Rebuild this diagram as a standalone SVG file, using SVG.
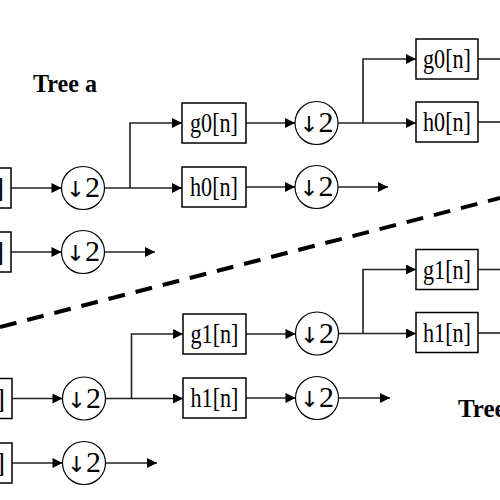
<svg xmlns="http://www.w3.org/2000/svg" width="500" height="500" viewBox="0 0 500 500">
<defs>
<marker id="ah" viewBox="0 0 10 10" refX="10" refY="5" markerWidth="11" markerHeight="10" markerUnits="userSpaceOnUse" orient="auto"><path d="M0,0 L10,5 L0,10 z" fill="#000"/></marker>
<style>
.box{fill:#fff;stroke:#000;stroke-width:1.5}
.circ{fill:#fff;stroke:#000;stroke-width:1.2}
.lbl{font-family:"Liberation Serif","Times New Roman",serif;font-size:27px;fill:#000;text-anchor:middle}
.ds{font-family:"Liberation Serif","DejaVu Serif",serif;font-size:29px;fill:#000;text-anchor:middle}
.arw{font-family:"DejaVu Sans",sans-serif;font-size:22px}
.title{font-family:"Liberation Serif","Times New Roman",serif;font-size:25px;font-weight:bold;fill:#000}
.c{fill:none;stroke:#222;stroke-width:1.6}
.a{marker-end:url(#ah)}
.dash{fill:none;stroke:#000;stroke-width:4;stroke-dasharray:17 11}
</style>
</defs>
<rect x="0" y="0" width="500" height="500" fill="#fff"/>

<text class="title" x="33" y="92" textLength="64" lengthAdjust="spacingAndGlyphs">Tree a</text>
<text class="title" x="458" y="417">Tree b</text>

<line class="dash" x1="0" y1="327" x2="500" y2="198"/>

<g id="connectors">
<path class="c a" d="M11,188 H61.5"/>
<path class="c a" d="M104.5,188 H182"/>
<path class="c a" d="M130,188 V123 H182"/>
<path class="c a" d="M246,123 H295"/>
<path class="c a" d="M338,123 H416"/>
<path class="c a" d="M363,123 V59 H416"/>
<path class="c" d="M478,59 H500"/>
<path class="c" d="M478,122 H500"/>
<path class="c a" d="M246,187 H295"/>
<path class="c a" d="M338,187 H388"/>
<path class="c a" d="M11,252 H61.5"/>
<path class="c a" d="M104.5,252 H155"/>

<path class="c a" d="M12,398.5 H62.5"/>
<path class="c a" d="M105.5,398.5 H183"/>
<path class="c a" d="M131.5,398.5 V334 H183"/>
<path class="c a" d="M246,334 H295.5"/>
<path class="c a" d="M338.5,333.5 H416"/>
<path class="c a" d="M363,333.5 V269.5 H416"/>
<path class="c" d="M478,269.5 H500"/>
<path class="c" d="M478,333 H500"/>
<path class="c a" d="M246,398 H295.5"/>
<path class="c a" d="M338.5,398 H390"/>
<path class="c a" d="M12,463 H62.5"/>
<path class="c a" d="M105.5,463 H157"/>
</g>

<g id="inA1"><rect class="box" x="-60" y="168" width="71" height="40"/><text class="lbl" x="4" y="197" style="text-anchor:end">]</text></g>
<g id="dsA1"><circle class="circ" cx="83" cy="188" r="21.5"/><text class="ds" x="83" y="197" textLength="34" lengthAdjust="spacingAndGlyphs"><tspan class="arw">↓</tspan>2</text></g>
<g id="g0a"><rect class="box" x="182" y="103" width="64" height="40"/><text class="lbl" x="214" y="132" textLength="48" lengthAdjust="spacingAndGlyphs">g0[n]</text></g>
<g id="h0a"><rect class="box" x="182" y="167" width="64" height="40"/><text class="lbl" x="214" y="196" textLength="48" lengthAdjust="spacingAndGlyphs">h0[n]</text></g>
<g id="dsA2"><circle class="circ" cx="316.5" cy="123" r="21.5"/><text class="ds" x="316.5" y="132" textLength="34" lengthAdjust="spacingAndGlyphs"><tspan class="arw">↓</tspan>2</text></g>
<g id="dsA3"><circle class="circ" cx="316.5" cy="187" r="21.5"/><text class="ds" x="316.5" y="196" textLength="34" lengthAdjust="spacingAndGlyphs"><tspan class="arw">↓</tspan>2</text></g>
<g id="g0b"><rect class="box" x="416" y="39" width="62" height="40"/><text class="lbl" x="447" y="68" textLength="48" lengthAdjust="spacingAndGlyphs">g0[n]</text></g>
<g id="h0b"><rect class="box" x="416" y="102" width="62" height="40"/><text class="lbl" x="447" y="131" textLength="48" lengthAdjust="spacingAndGlyphs">h0[n]</text></g>
<g id="inA2"><rect class="box" x="-60" y="232" width="71" height="40"/><text class="lbl" x="4" y="261" style="text-anchor:end">]</text></g>
<g id="dsA4"><circle class="circ" cx="83" cy="252" r="21.5"/><text class="ds" x="83" y="261" textLength="34" lengthAdjust="spacingAndGlyphs"><tspan class="arw">↓</tspan>2</text></g>

<g id="inB1"><rect class="box" x="-60" y="378.5" width="72" height="40"/><text class="lbl" x="5" y="407.5" style="text-anchor:end">]</text></g>
<g id="dsB1"><circle class="circ" cx="84" cy="398.5" r="21.5"/><text class="ds" x="84" y="407.5" textLength="34" lengthAdjust="spacingAndGlyphs"><tspan class="arw">↓</tspan>2</text></g>
<g id="g1a"><rect class="box" x="183" y="314" width="63" height="40"/><text class="lbl" x="214.5" y="343" textLength="48" lengthAdjust="spacingAndGlyphs">g1[n]</text></g>
<g id="h1a"><rect class="box" x="183" y="378" width="63" height="40"/><text class="lbl" x="214.5" y="407" textLength="48" lengthAdjust="spacingAndGlyphs">h1[n]</text></g>
<g id="dsB2"><circle class="circ" cx="317" cy="333.5" r="21.5"/><text class="ds" x="317" y="342.5" textLength="34" lengthAdjust="spacingAndGlyphs"><tspan class="arw">↓</tspan>2</text></g>
<g id="dsB3"><circle class="circ" cx="317" cy="398" r="21.5"/><text class="ds" x="317" y="407" textLength="34" lengthAdjust="spacingAndGlyphs"><tspan class="arw">↓</tspan>2</text></g>
<g id="g1b"><rect class="box" x="416" y="249.5" width="62" height="40"/><text class="lbl" x="447" y="278.5" textLength="48" lengthAdjust="spacingAndGlyphs">g1[n]</text></g>
<g id="h1b"><rect class="box" x="416" y="312.5" width="62" height="40"/><text class="lbl" x="447" y="341.5" textLength="48" lengthAdjust="spacingAndGlyphs">h1[n]</text></g>
<g id="inB2"><rect class="box" x="-60" y="443" width="72" height="40"/><text class="lbl" x="5" y="472" style="text-anchor:end">]</text></g>
<g id="dsB4"><circle class="circ" cx="84" cy="463" r="21.5"/><text class="ds" x="84" y="472" textLength="34" lengthAdjust="spacingAndGlyphs"><tspan class="arw">↓</tspan>2</text></g>
</svg>
